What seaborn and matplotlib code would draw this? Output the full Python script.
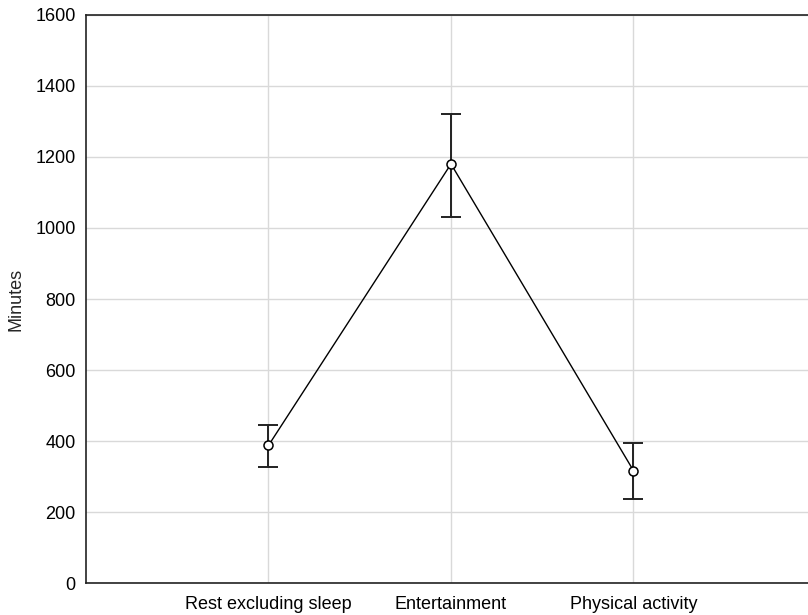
"""
Mean minutes per activity with error bars.
"""

import matplotlib
matplotlib.use("Agg")
import matplotlib.pyplot as plt
import pandas as pd
import seaborn as sns

CATEGORIES: list[str] = [
    "Rest excluding sleep",
    "Entertainment",
    "Physical activity",
]
MEANS: list[float] = [388, 1180, 317]
UPPER: list[float] = [445, 1320, 395]
LOWER: list[float] = [328, 1031, 236]

Y_TICKS: list[int] = [0, 200, 400, 600, 800, 1000, 1200, 1400, 1600]


def create_plot() -> None:
    df = pd.DataFrame({"Activity": CATEGORIES, "Minutes": MEANS})

    sns.set_style("white")
    plt.rcParams["font.family"] = ["Liberation Sans", "DejaVu Sans"]

    fig = plt.figure(figsize=(8.08, 6.15), dpi=100)
    ax = fig.add_axes([0.1064, 0.0515, 0.9035, 0.9246])

    ax.grid(True, color="#d9d9d9", linewidth=1)
    ax.set_axisbelow(True)

    yerr = [
        [m - lo for m, lo in zip(MEANS, LOWER)],
        [hi - m for m, hi in zip(MEANS, UPPER)],
    ]
    ax.errorbar(
        CATEGORIES, MEANS, yerr=yerr, fmt="none",
        ecolor="#222222", elinewidth=1.4, capsize=7.5, capthick=1.4, zorder=3,
    )

    sns.lineplot(
        data=df, x="Activity", y="Minutes", ax=ax, sort=False,
        color="black", linewidth=1, marker="o", markersize=6.5,
        markerfacecolor="white", markeredgecolor="black", markeredgewidth=1.1,
        zorder=4,
    )

    ax.set_xlim(-1, 3)
    ax.set_ylim(0, 1600)
    ax.set_yticks(Y_TICKS)
    ax.set_xlabel("")
    ax.set_ylabel("Minutes", fontsize=13, labelpad=8)
    ax.tick_params(axis="both", length=2.5, width=1, labelsize=13,
                   colors="black", direction="out")
    ax.tick_params(axis="y", pad=5)
    ax.tick_params(axis="x", pad=9, length=0)

    for side in ("left", "bottom", "top"):
        ax.spines[side].set_color("#222222")
        ax.spines[side].set_linewidth(1.2)
    ax.spines["right"].set_visible(False)

    fig.savefig("out.png", dpi=100)


if __name__ == "__main__":
    create_plot()
